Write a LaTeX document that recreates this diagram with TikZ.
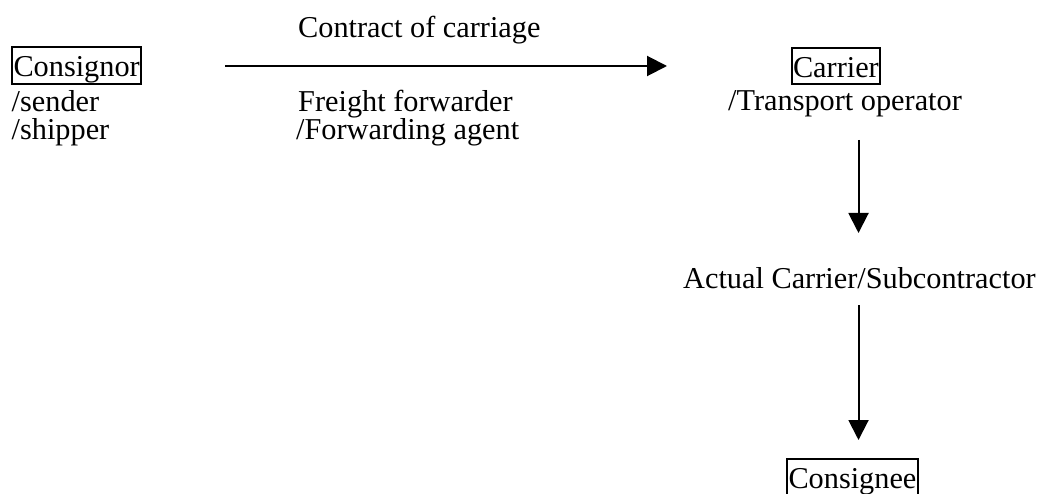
\documentclass[tikz,border=0pt]{standalone}
\usepackage{fontspec}
\setmainfont{Liberation Serif}
\usetikzlibrary{arrows.meta}
\begin{document}
\begin{tikzpicture}[x=1pt,y=-1pt,
  lbl/.style={anchor=base west,inner sep=0pt,font=\fontsize{30.3}{36}\selectfont},
  boxed/.style={lbl,draw,line width=2pt,inner xsep=1.5pt,inner ysep=0pt,text height=29.5pt,text depth=7pt},
  conn/.style={line width=2pt,-{Triangle[length=20pt,width=20pt]}}]
\useasboundingbox (0,0) rectangle (1040,494);
\node[boxed] (consignor) at (11,77) {Consignor};
\node[lbl] (sender) at (11.5,111.5) {/sender};
\node[lbl] (shipper) at (11.5,140) {/shipper};
\node[lbl] (contract) at (298,38) {Contract of carriage};
\node[lbl] (ff) at (298,111.5) {Freight forwarder};
\node[lbl] (fa) at (296,139.5) {/Forwarding agent};
\node[boxed,inner xsep=1pt] (carrier) at (791,77.5) {Carrier};
\node[lbl] (transport) at (728,110.5) {/Transport operator};
\node[lbl] (actual) at (683,288) {Actual Carrier/Subcontractor};
\node[boxed] (consignee) at (786,488) {Consignee};
\coordinate (h1) at (225,66);
\coordinate (h2) at (667,66);
\coordinate (v1) at (858.5,140);
\coordinate (v2) at (858.5,233);
\coordinate (v3) at (858.5,305);
\coordinate (v4) at (858.5,440);
\draw[conn] (h1) -- (h2);
\draw[conn] (v1) -- (v2);
\draw[conn] (v3) -- (v4);
\end{tikzpicture}
\end{document}
